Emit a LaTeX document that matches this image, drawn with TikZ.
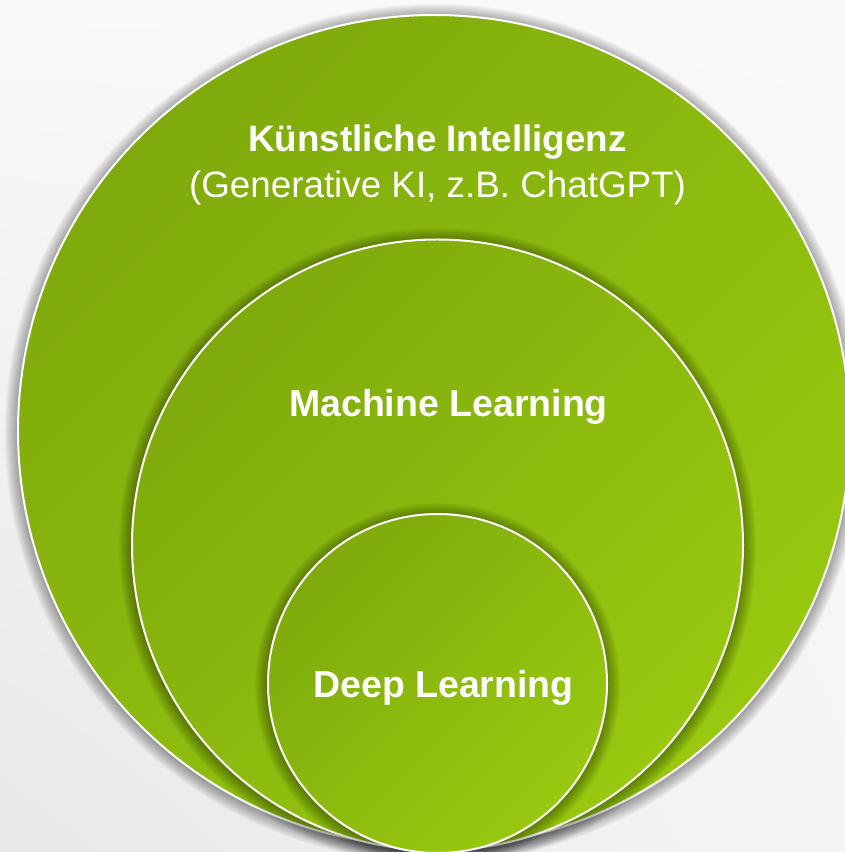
\documentclass[tikz,border=0pt]{standalone}
\usepackage{fontspec}
\setmainfont{Liberation Sans}
\usetikzlibrary{shadings}
\definecolor{gdark}{HTML}{7FAA0C}
\definecolor{glight}{HTML}{98C90F}
\definecolor{bgA}{HTML}{F9F9F9}
\definecolor{bgB}{HTML}{E8E8E8}
\definecolor{bgC}{HTML}{F5F5F5}
\tikzset{
  ring/.style={circle, inner sep=0pt, draw=white, line width=2pt,
    top color=gdark, bottom color=glight, shading angle=45},
  lbl/.style={text=white, anchor=base, inner sep=0pt,
    font=\fontsize{36.8}{44}\selectfont},
  softshadow/.style={black, opacity=0.032},
}
\newcommand{\myshadow}[3]{%
  \foreach \k in {1,...,12}{\fill[softshadow] (#1,#2) circle[radius={#3pt+\k*1.1pt}];}%
}
\begin{document}
\begin{tikzpicture}[x=1pt,y=1pt]
  \useasboundingbox (0,0) rectangle (845,852);
  \clip (0,0) rectangle (845,852);
  \shade[upper left=bgA, upper right=bgA, lower left=bgB, lower right=bgC]
    (0,0) rectangle (845,852);
  % outer circle
  \myshadow{434}{419}{416}
  \node[ring, minimum size=832pt] (ki) at (434,421) {};
  % middle circle
  \myshadow{437.5}{305}{305.5}
  \node[ring, minimum size=611pt] (ml) at (437.5,307) {};
  % inner circle
  \myshadow{437.5}{166.5}{169.5}
  \node[ring, minimum size=339pt] (dl) at (437.5,168.5) {};
  % labels
  \node[lbl, font=\fontsize{36.8}{44}\selectfont\bfseries] (kititle) at (437.5,700) {Künstliche Intelligenz};
  \node[lbl] (kisub) at (437.5,654) {(Generative KI, z.B. ChatGPT)};
  \node[lbl, font=\fontsize{37.5}{44}\selectfont\bfseries] (mltitle) at (448.5,435) {Machine Learning};
  \node[lbl, font=\fontsize{37.5}{44}\selectfont\bfseries] (dltitle) at (443.5,154) {Deep Learning};
\end{tikzpicture}
\end{document}
